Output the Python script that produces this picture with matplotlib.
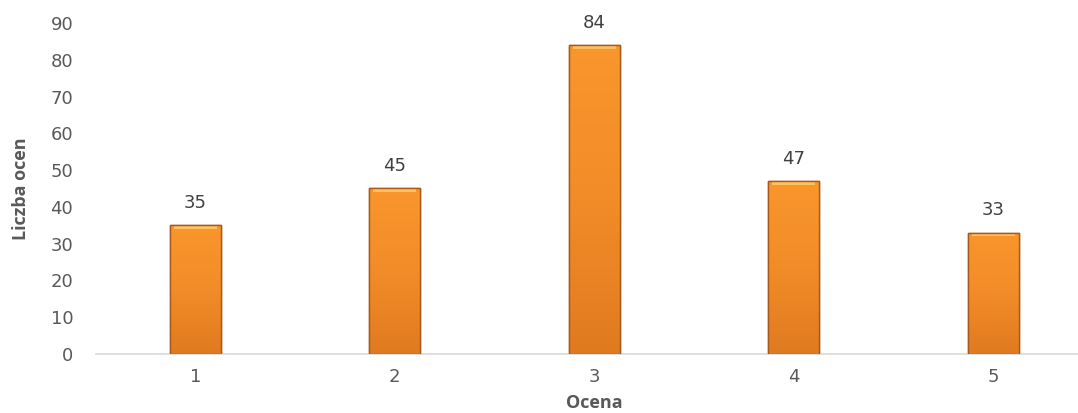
import numpy as np
import matplotlib.pyplot as plt
from matplotlib.colors import LinearSegmentedColormap

plt.rcParams['font.family'] = ['DejaVu Sans']

oceny = ['1', '2', '3', '4', '5']
liczba = [35, 45, 84, 47, 33]

fig = plt.figure(figsize=(10.78, 4.13), dpi=100)
ax = fig.add_axes([0.0886, 0.1429, 0.9254, 0.8015])

x = np.arange(len(oceny))
bars = ax.bar(x, liczba, width=0.256, color='#F28C28', edgecolor='#A8581A',
              linewidth=1.0, zorder=2)

# gradient fill, a bit darker at the bottom, like the bevelled Excel bars
cmap = LinearSegmentedColormap.from_list('org', ['#E07A20', '#F28C28', '#F9962C'])
grad = np.linspace(0, 1, 256).reshape(-1, 1)
for b in bars:
    x0, w, h = b.get_x(), b.get_width(), b.get_height()
    im = ax.imshow(grad, cmap=cmap, origin='lower', aspect='auto',
                   extent=[x0, x0 + w, 0, h], zorder=3)
    im.set_clip_path(b)
    # light bevel on top edge
    ax.fill_between([x0 + w * 0.08, x0 + w * 0.92], h - 1.0, h - 0.25,
                    color='#FFC060', lw=0, zorder=4)
    ax.bar(x0 + w / 2, h, width=w, fill=False, edgecolor='#A8581A',
           linewidth=1.0, zorder=5)

for xi, v in zip(x, liczba):
    ax.text(xi, v + 3.6, str(v), ha='center', va='bottom', fontsize=13,
            color='#404040')

ax.set_xlim(-0.5, 4.5)
ax.set_ylim(0, 90)
ax.set_yticks(range(0, 91, 10))
ax.set_xticks(x)
ax.set_xticklabels(oceny)
ax.tick_params(length=0, labelsize=13, colors='#595959')
ax.tick_params(axis='y', pad=16)
ax.tick_params(axis='x', pad=10)
for s in ['top', 'right', 'left']:
    ax.spines[s].set_visible(False)
ax.spines['bottom'].set_color('#D9D9D9')
ax.spines['bottom'].set_linewidth(1.2)

lab_font = ['Open Sans', 'DejaVu Sans']
ax.set_xlabel('Ocena', fontsize=13, fontweight='bold', color='#595959',
              family=lab_font)
ax.set_ylabel('Liczba ocen', fontsize=13, fontweight='bold', color='#595959',
              family=lab_font)
ax.yaxis.set_label_coords(-0.066, 0.5)
ax.xaxis.set_label_coords(0.5, -0.122)

plt.savefig('out.png', dpi=100)
